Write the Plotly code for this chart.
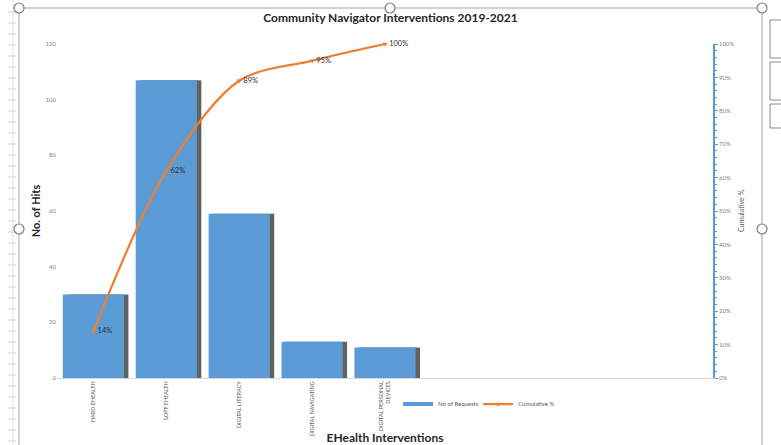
import plotly.graph_objects as go

categories = ["HARD EHEALTH", "SOFT EHEALTH", "DIGITAL LITERACY", "DIGITAL NAVIGATING", "DIGITAL PERSONAL<br>DEVICES"]
requests = [30, 107, 59, 13, 11]
cumulative = [0.14, 0.62, 0.89, 0.95, 1.00]
cum_labels = ["14%", "62%", "89%", "95%", "100%"]
x_pos = list(range(len(categories)))

W, H = 781, 445
L, R, T, B = 57, 68, 44, 67

BLUE = "#5B9BD5"
ORANGE = "#ED7D31"
FONT = "Lato"

fig = go.Figure()

# shadow of bars
fig.add_trace(go.Bar(
    x=x_pos, y=requests, width=0.84, offset=-0.42 + 0.06,
    marker=dict(color="rgba(70,70,70,0.85)", line_width=0),
    showlegend=False, hoverinfo="skip"))
fig.add_trace(go.Bar(
    x=x_pos, y=requests, width=0.84, offset=-0.42,
    marker=dict(color=BLUE, line_width=0), name="No of Requests", showlegend=False))
# legend-only entry drawn as a thick line, like the original
fig.add_trace(go.Scatter(
    x=[None], y=[None], mode="lines", line=dict(color=BLUE, width=4),
    name="No of Requests", legend="legend"))
fig.add_trace(go.Scatter(
    x=x_pos, y=cumulative, yaxis="y2", mode="lines+markers+text",
    line=dict(color=ORANGE, width=2.2, shape="spline", smoothing=0.9),
    marker=dict(symbol="triangle-down", size=5, color=ORANGE),
    text=cum_labels, textposition="middle right", cliponaxis=False,
    textfont=dict(family=FONT, size=7.5, color="#303030"),
    name="Cumulative %", legend="legend2"))

legend_common = dict(orientation="h", y=-0.078, xanchor="left", yanchor="middle",
                     font=dict(size=6, color="#595959"), bgcolor="rgba(0,0,0,0)",
                     itemwidth=30)

fig.update_layout(
    width=W, height=H,
    margin=dict(l=L, r=R, t=T, b=B, autoexpand=False),
    paper_bgcolor="white", plot_bgcolor="white",
    barmode="overlay",
    font=dict(family=FONT, color="#595959"),
    title=dict(text="<b>Community Navigator Interventions 2019-2021</b>",
               x=0.5, xanchor="center", y=1 - 18 / H, yanchor="middle",
               font=dict(family=FONT, size=12, color="#262626")),
    xaxis=dict(range=[-0.5, 8.5], tickmode="array", tickvals=x_pos, ticktext=categories,
               tickangle=-90, tickfont=dict(size=5.5, color="#595959"),
               showline=True, linecolor="#D9D9D9", linewidth=1, ticks="",
               showgrid=False, zeroline=False,
               title=dict(text="<b>EHealth Interventions</b>", standoff=4,
                          font=dict(family=FONT, size=12, color="#262626"))),
    yaxis=dict(range=[0, 120], dtick=20, tickfont=dict(size=6, color="#7F7F7F"),
               showline=False, showgrid=False, zeroline=False, ticks="",
               title=dict(text="<b>No. of Hits</b>", standoff=2,
                          font=dict(family=FONT, size=11, color="#262626"))),
    yaxis2=dict(overlaying="y", side="right", range=[0, 1], dtick=0.1, tickformat=".0%",
                tickfont=dict(size=6, color="#7F7F7F"),
                showline=True, linecolor=BLUE, linewidth=1.5,
                ticks="outside", ticklen=3, tickcolor=BLUE,
                minor=dict(dtick=0.02, ticks="outside", ticklen=2, tickcolor=BLUE),
                showgrid=False, zeroline=False,
                title=dict(text="Cumulative %", standoff=6,
                           font=dict(family=FONT, size=7, color="#595959"))),
    legend=dict(x=0.52, **legend_common),
    legend2=dict(x=0.642, **legend_common),
)

pw, ph = W - L - R, H - T - B


def qx(x):
    return (x - L) / pw


def qy(y):
    return (H - B - y) / ph


deco = []
frame = "#A6A6A6"
for (x0, y0, x1, y1) in [(19, 8, 762, 8), (19, 8, 19, 445), (762, 8, 762, 445)]:
    deco.append(dict(type="line", xref="paper", yref="paper", x0=qx(x0), y0=qy(y0), x1=qx(x1), y1=qy(y1),
                     line=dict(color=frame, width=1), layer="above"))
# ruler ticks on left strip
for yy in range(12, 445, 11):
    deco.append(dict(type="line", xref="paper", yref="paper", x0=qx(8), y0=qy(yy), x1=qx(16), y1=qy(yy),
                     line=dict(color="#D0D0D0", width=1)))
deco.append(dict(type="line", xref="paper", yref="paper", x0=qx(13), y0=qy(0), x1=qx(13), y1=qy(445),
                 line=dict(color="#E0E0E0", width=1)))
# right UI boxes
for (y0, y1) in [(20, 58), (62, 100), (104, 128)]:
    deco.append(dict(type="rect", xref="paper", yref="paper", x0=qx(770), y0=qy(y0), x1=qx(790), y1=qy(y1),
                     line=dict(color="#8C8C8C", width=1), fillcolor="white"))
# handles
for (cx, cy) in [(19, 8), (390, 8), (762, 8), (19, 229), (762, 229)]:
    deco.append(dict(type="circle", xref="paper", yref="paper", x0=qx(cx - 5), y0=qy(cy - 5), x1=qx(cx + 5),
                     y1=qy(cy + 5), line=dict(color="#7F7F7F", width=1.2), fillcolor="white", layer="above"))
fig.update_layout(shapes=deco)

fig.write_html("out.html")
